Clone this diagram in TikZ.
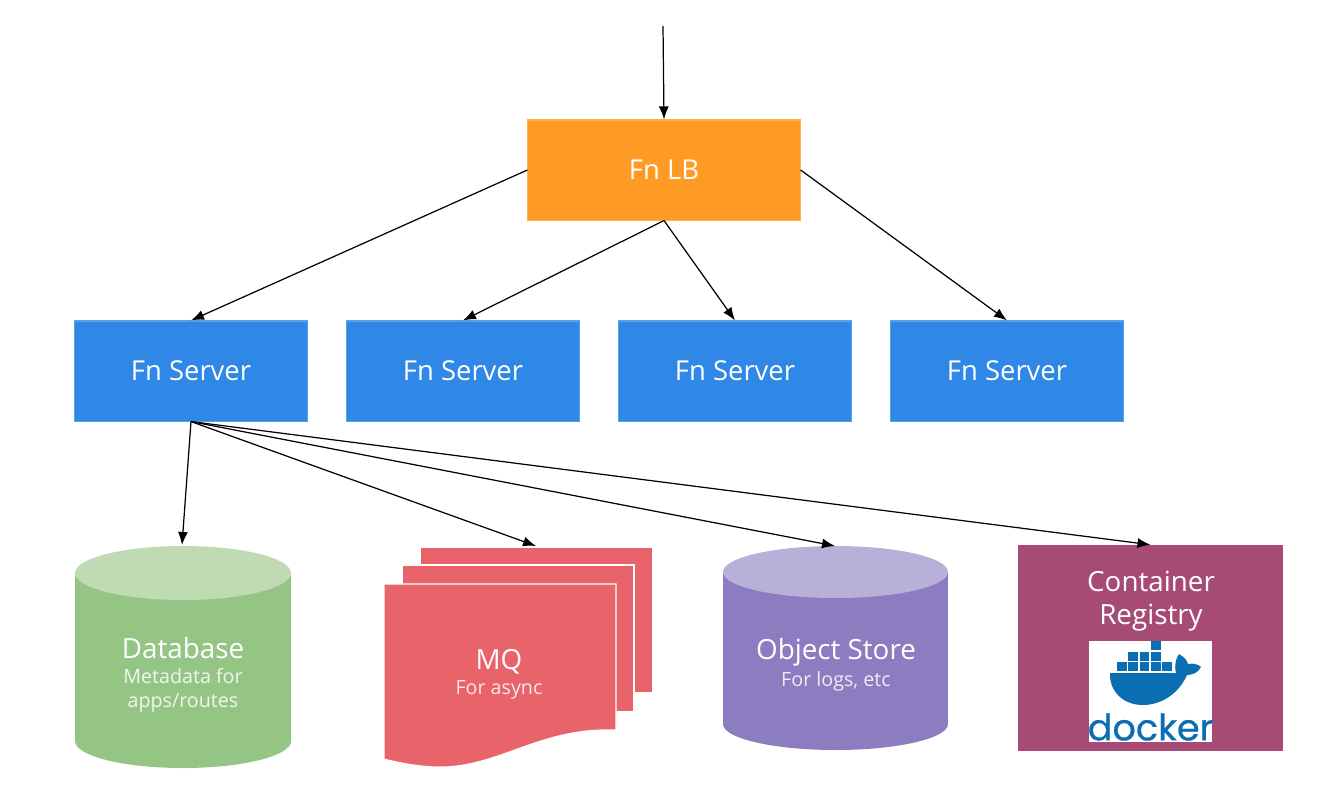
\documentclass[tikz,border=0pt]{standalone}
\usepackage{fontspec}
\setmainfont{Open Sans}
\newfontfamily\dockerfont[FakeBold=0.6]{Poppins}
\usetikzlibrary{arrows.meta}

\definecolor{lbcol}{HTML}{FF9A24}
\definecolor{servercol}{HTML}{2F88E5}
\definecolor{dbcol}{HTML}{95C585}
\definecolor{dbtop}{HTML}{C0DBB3}
\definecolor{mqcol}{HTML}{E8636A}
\definecolor{storecol}{HTML}{8B7DC0}
\definecolor{storetop}{HTML}{B9B0D9}
\definecolor{regcol}{HTML}{A64B75}
\definecolor{dockercol}{HTML}{0B6EB2}

\tikzset{
  box/.style={rectangle,inner sep=0pt,text=white,font=\fontsize{7.8}{9}\selectfont},
  lbbox/.style={box,fill=lbcol,draw=lbcol!80!white,line width=0.3pt,minimum width=2.72cm,minimum height=1cm},
  serverbox/.style={box,fill=servercol,draw=servercol!80!white,line width=0.3pt,minimum width=2.32cm,minimum height=1cm},
  bigtext/.style={text=white,inner sep=0pt,align=center,font=\fontsize{7.9}{9.4}\selectfont},
  smalltext/.style={text=white,text opacity=0.85,inner sep=0pt,align=center,font=\fontsize{5.6}{6.8}\selectfont},
  arr/.style={-{Latex[length=1.3mm,width=1mm]},line width=0.35pt,black},
  mqpage/.style={fill=mqcol,draw=white,line width=0.3pt}
}

\begin{document}
\begin{tikzpicture}[x=0.01cm,y=-0.01cm]
\useasboundingbox (0,0) rectangle (1340,800);

\coordinate (entry) at (663,26);
\node (lb) at (664,170) [lbbox] {Fn LB};						% Load balancer

\node (srvA) at (191,371) [serverbox] {Fn Server};
\node (srvB) at (463,371) [serverbox] {Fn Server};
\node (srvC) at (735,371) [serverbox] {Fn Server};
\node (srvD) at (1007,371) [serverbox] {Fn Server};

\fill[dbcol] (75,573) rectangle (291,741);						% Database
\fill[dbcol] (183,741) ellipse [x radius=108,y radius=27];
\fill[dbtop] (183,573) ellipse [x radius=108,y radius=27];
\coordinate (dbtopedge) at (182,545);
\node (dbname) at (183,648) [bigtext] {Database};
\node (dbinfo) at (183,690) [smalltext] {Metadata for\\apps/routes};

\filldraw[mqpage] (420,547) -- (653,547) -- (653,693) -- (420,693) -- cycle;	% MQ back
\filldraw[mqpage] (402,565) -- (634,565) -- (634,712) -- (402,712) -- cycle;	% MQ middle
\filldraw[mqpage] (384,584) -- (616,584) -- (616,730) .. controls (540,727) and (500,767) .. (440,767) .. controls (420,767) and (400,763) .. (384,759) -- cycle;	% MQ front
\coordinate (mqtop) at (536,546);
\node (mqname) at (499,662) [bigtext] {MQ};
\node (mqinfo) at (499,690) [smalltext] {For async};

\fill[storecol] (723,572) rectangle (948,724);					% Object store
\fill[storecol] (835.5,724) ellipse [x radius=112.5,y radius=26];
\fill[storetop] (835.5,572) ellipse [x radius=112.5,y radius=26];
\coordinate (storetopedge) at (835,546);
\node (storename) at (836,652) [bigtext] {Object Store};
\node (storeinfo) at (836,681) [smalltext] {For logs, etc};

\node (reg) at (1150.5,648) [rectangle,fill=regcol,minimum width=2.65cm,minimum height=2.05cm,inner sep=0pt] {};	% Registry
\node (regname) at (1151,601) [bigtext] {Container\\Registry};

\fill[white] (1089,641) rectangle (1212,742);					% Docker logo
\foreach \col/\row in {3/0,1/1,2/1,3/1,0/2,1/2,2/2,3/2,4/2}
  \fill[dockercol] ({1117+11.3*\col},{641+10.6*\row}) rectangle ++(9.6,9.2);
\fill[dockercol] (1110,673) -- (1176,673) .. controls (1174,665) and (1176,658) .. (1179,654) .. controls (1184,657) and (1187,660) .. (1188,664) .. controls (1193,663) and (1198,664) .. (1201,667) .. controls (1198,673) and (1192,675) .. (1187,675) .. controls (1178,695) and (1160,705) .. (1143,705) .. controls (1122,705) and (1109,690) .. (1110,673) -- cycle;
\node (dockername) at (1150.5,727) [inner sep=0pt,text=dockercol,font=\dockerfont\fontsize{10.4}{12}\selectfont] {docker};

\draw[arr] (entry) -- (lb.north);
\draw[arr] (lb.west) -- (srvA.north);
\draw[arr] (lb.south) -- (srvB.north);
\draw[arr] (lb.south) -- (srvC.north);
\draw[arr] (lb.east) -- (srvD.north);

\draw[arr] (srvA.south) -- (dbtopedge);
\draw[arr] (srvA.south) -- (mqtop);
\draw[arr] (srvA.south) -- (storetopedge);
\draw[arr] (srvA.south) -- (reg.north);

\end{tikzpicture}
\end{document}
